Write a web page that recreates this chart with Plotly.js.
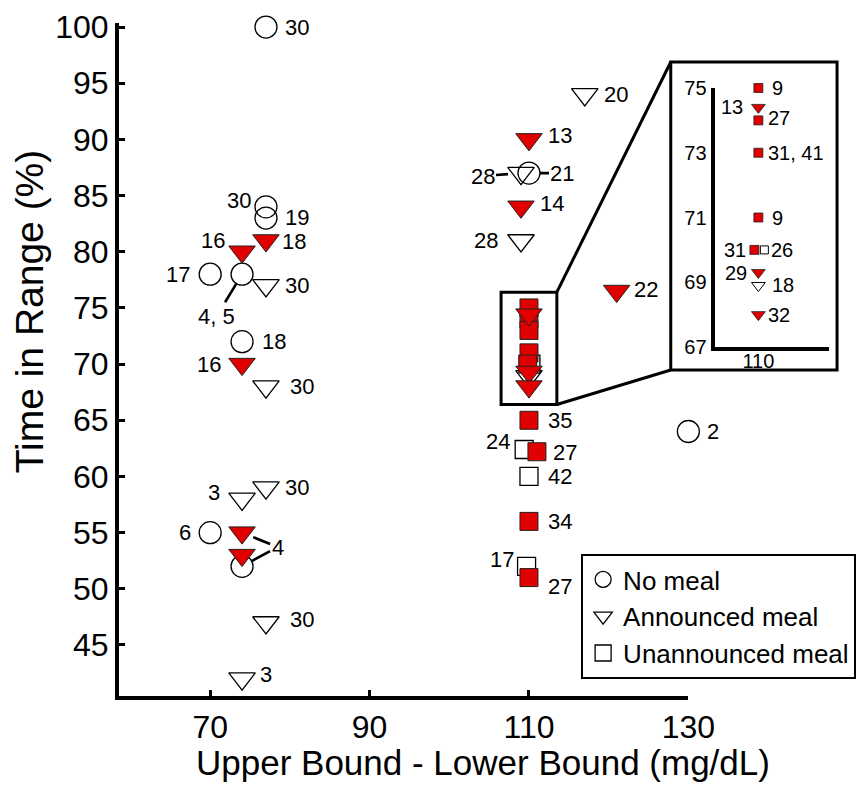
<!DOCTYPE html>
<html>
<head>
<meta charset="utf-8">
<script src="https://cdn.plot.ly/plotly-3.0.1.min.js"></script>
<style>html,body{margin:0;padding:0;background:#fff;}#chart{width:866px;height:785px;}</style>
</head>
<body>
<div id="chart"></div>
<script>
// ---------------- DATA ----------------
// No meal (circles)
const noMealX = [77, 77, 77, 70, 74, 74, 70, 74, 110, 130];
const noMealY = [100, 84, 83, 78, 78, 72, 55, 52, 87, 64];
const noMealLabel = ['30', '30', '19', '17', '4, 5', '18', '6', '4', '21', '2'];

// Announced meal, open triangles
const annOpenX = [117, 77, 77, 77, 74, 77, 74, 109, 109, 110];
const annOpenY = [94, 77, 68, 59, 58, 47, 42, 87, 81, 68.9];
const annOpenLabel = ['20', '30', '30', '30', '3', '30', '3', '28', '28', '18'];

// Announced meal, red triangles
const annRedX = [77, 74, 74, 74, 74, 110, 109, 121, 110, 110, 110];
const annRedY = [81, 80, 70, 55, 53, 90, 84, 76.5, 74.4, 69.3, 68];
const annRedLabel = ['18', '16', '16', '4', '', '13', '14', '22', '13', '29', '32'];

// Unannounced meal, open squares
const unOpenX = [109.4, 110, 109.7, 110.24];
const unOpenY = [62.4, 60, 52, 70];
const unOpenLabel = ['24', '42', '17', '26'];

// Unannounced meal, red squares
const unRedX = [110, 111, 110, 110, 110, 110, 110, 110, 109.84];
const unRedY = [65, 62.2, 56, 51, 75, 74, 73, 71, 70];
const unRedLabel = ['35', '27', '34', '27', '9', '27', '31, 41', '9', '31'];

// Zoomed window (main axes) shown in the inset
const zoomX = [106.5, 113.5];
const zoomY = [66.4, 76.4];

const xTicks = [70, 90, 110, 130];
const yTicks = [45, 50, 55, 60, 65, 70, 75, 80, 85, 90, 95, 100];
const insetXTicks = [110];
const insetYTicks = [67, 69, 71, 73, 75];

const xTitle = 'Upper Bound - Lower Bound (mg/dL)';
const yTitle = 'Time in Range (%)';

// ---------------- LABEL PLACEMENT (layout only) ----------------
// ['r'|'l', dx px, dy px]  or ['a', ax px, ay px, standoff, hiddenText]
const noMealPlace = [['r',17,0],['l',13,-6],['r',17,-1],['l',18,0],['a',-25.5,42,11],['r',18,0],['l',17,0],['a',35.5,-19.3,11,true],['a',33.5,0,11],['r',17,0]];
const annOpenPlace = [['r',17,0],['r',17,0],['r',22,0],['r',17,0],['l',20,-6],['r',22,-3],['r',16,-4],['a',-38.5,3,13],['l',21,0],['r',12,0]];
const annRedPlace = [['r',14,1],['l',15,-11],['l',19,0],['a',35.5,14.4,12],null,['r',17,-4],['r',17,-3],['r',15,-2],['l',13,0],['l',9,0],['r',8,0]];
const unOpenPlace = [['l',12,-8],['r',17,0],['l',11,-7],['r',5,0]];
const unRedPlace = [['r',17,0],['r',14,1],['r',17,0],['r',17,9],['r',12,0],['r',8,-2],['r',8,0],['r',12,0],['l',6,0]];

// ---------------- GEOMETRY ----------------
const W = 866, H = 785;
const M = {l: 119, r: 10, t: 23, b: 89};
const plotW = W - M.l - M.r, plotH = H - M.t - M.b;
const pX = px => (px - M.l) / plotW;
const pY = py => (H - M.b - py) / plotH;
const xRange = [58.56, 130], yRange = [40.46, 100.36];
const xDom = [0, pX(690.7)];
const insetXRange = [108.24, 112.84], insetYRange = [67, 75];
const insetXDom = [pX(717), pX(832)];
const insetYDom = [pY(347), pY(88)];
const dataToPaperX = x => xDom[0] + (x - xRange[0]) / (xRange[1] - xRange[0]) * (xDom[1] - xDom[0]);
const dataToPaperY = y => (y - yRange[0]) / (yRange[1] - yRange[0]);

const FONT = 'Liberation Sans, Arial, Helvetica, sans-serif';
const RED = '#e00000';
const CLEAR = 'rgba(255,255,255,0)';

const inZoom = (x, y) => x >= zoomX[0] && x <= zoomX[1] && y >= zoomY[0] && y <= zoomY[1];

function split(xs, ys, labels, place) {
  const main = {x: [], y: [], l: [], p: []}, ins = {x: [], y: [], l: [], p: []};
  xs.forEach((x, i) => {
    const t = inZoom(x, ys[i]) ? ins : main;
    t.x.push(x); t.y.push(ys[i]); t.l.push(labels[i]); t.p.push(place[i]);
  });
  return {main, ins};
}

const S = {
  noMeal: split(noMealX, noMealY, noMealLabel, noMealPlace),
  annOpen: split(annOpenX, annOpenY, annOpenLabel, annOpenPlace),
  annRed: split(annRedX, annRedY, annRedLabel, annRedPlace),
  unOpen: split(unOpenX, unOpenY, unOpenLabel, unOpenPlace),
  unRed: split(unRedX, unRedY, unRedLabel, unRedPlace)
};

function mk(d, name, symbol, size, color, lineColor, lw, xa, ya, legend) {
  return {
    type: 'scatter', mode: 'markers', x: d.x, y: d.y, name: name,
    xaxis: xa, yaxis: ya, showlegend: legend, cliponaxis: false,
    marker: {symbol: symbol, size: size, color: color, line: {color: lineColor, width: lw}},
    hoverinfo: 'skip'
  };
}

const data = [
  mk(S.noMeal.main, 'No meal', 'circle', 22, CLEAR, '#000', 1.3, 'x', 'y', true),
  mk(S.annOpen.main, 'Announced meal', 'triangle-down', 23, CLEAR, '#000', 1.3, 'x', 'y', true),
  mk(S.unOpen.main, 'Unannounced meal', 'square', 18, CLEAR, '#000', 1.3, 'x', 'y', true),
  mk(S.annRed.main, 'Announced meal (red)', 'triangle-down', 23, RED, '#222', 1, 'x', 'y', false),
  mk(S.unRed.main, 'Unannounced meal (red)', 'square', 18, RED, '#222', 1, 'x', 'y', false),
  // points inside the zoom window, also drawn on the main axes
  mk(S.annOpen.ins, 'a', 'triangle-down', 23, CLEAR, '#000', 1.3, 'x', 'y', false),
  mk(S.unOpen.ins, 'b', 'square', 18, CLEAR, '#000', 1.3, 'x', 'y', false),
  mk(S.unRed.ins, 'c', 'square', 18, RED, '#222', 1, 'x', 'y', false),
  mk(S.annRed.ins, 'd', 'triangle-down', 23, RED, '#222', 1, 'x', 'y', false),
  // inset
  mk(S.annOpen.ins, 'e', 'triangle-down', 12, CLEAR, '#000', 1, 'x2', 'y2', false),
  mk(S.unOpen.ins, 'f', 'square', 8, CLEAR, '#000', 1, 'x2', 'y2', false),
  mk(S.unRed.ins, 'g', 'square', 9, RED, '#222', 0.8, 'x2', 'y2', false),
  mk(S.annRed.ins, 'h', 'triangle-down', 12, RED, '#222', 0.8, 'x2', 'y2', false)
];

const annotations = [];
function addLabels(d, xref, yref, size) {
  d.x.forEach((x, i) => {
    const p = d.p[i], t = d.l[i];
    if (!p || !t) return;
    const font = {family: FONT, size: size, color: '#000'};
    if (p[0] === 'a') {
      annotations.push({x: x, y: d.y[i], xref: xref, yref: yref, text: t, showarrow: true,
        arrowhead: 0, arrowwidth: 2.6, arrowcolor: '#000', ax: p[1], ay: p[2], standoff: p[3],
        font: p[4] ? {family: FONT, size: size, color: 'rgba(0,0,0,0)'} : font});
    } else {
      annotations.push({x: x, y: d.y[i], xref: xref, yref: yref, text: t, showarrow: false,
        xanchor: p[0] === 'r' ? 'left' : 'right', yanchor: 'middle',
        xshift: p[0] === 'r' ? p[1] : -p[1], yshift: -p[2], font: font});
    }
  });
}
['noMeal', 'annOpen', 'annRed', 'unOpen', 'unRed'].forEach(k => {
  addLabels(S[k].main, 'x', 'y', 22);
  addLabels(S[k].ins, 'x2', 'y2', 20);
});

// axis titles as paper annotations
annotations.push({xref: 'paper', yref: 'paper', x: pX(484), y: pY(762), xanchor: 'center', yanchor: 'middle',
  text: xTitle, showarrow: false, font: {family: FONT, size: 35, color: '#000'}});
annotations.push({xref: 'paper', yref: 'paper', x: pX(29), y: pY(311), xanchor: 'center', yanchor: 'middle',
  text: yTitle, textangle: -90, showarrow: false, font: {family: FONT, size: 39, color: '#000'}});

const boxL = pX(673), boxR = pX(840), boxT = pY(62), boxB = pY(370);
const shapes = [
  {type: 'rect', xref: 'x', yref: 'y', x0: zoomX[0], x1: zoomX[1], y0: zoomY[0], y1: zoomY[1], line: {color: '#000', width: 3}},
  {type: 'rect', xref: 'paper', yref: 'paper', x0: boxL, x1: boxR, y0: boxB, y1: boxT, line: {color: '#000', width: 3}},
  {type: 'line', xref: 'paper', yref: 'paper', x0: dataToPaperX(zoomX[1]), y0: dataToPaperY(zoomY[1]), x1: boxL, y1: boxT, line: {color: '#000', width: 3}},
  {type: 'line', xref: 'paper', yref: 'paper', x0: dataToPaperX(zoomX[1]), y0: dataToPaperY(zoomY[0]), x1: boxL, y1: boxB, line: {color: '#000', width: 3}}
];

const axBase = {showgrid: false, zeroline: false, showline: true, linecolor: '#000', color: '#000'};
const layout = {
  width: W, height: H, margin: M, paper_bgcolor: '#fff', plot_bgcolor: 'rgba(0,0,0,0)',
  font: {family: FONT, color: '#000'},
  showlegend: true,
  xaxis: Object.assign({}, axBase, {domain: xDom, range: xRange, anchor: 'y', tickvals: xTicks,
    ticks: 'inside', ticklen: 6, tickwidth: 3, tickcolor: '#000', linewidth: 4,
    tickfont: {family: FONT, size: 32}}),
  yaxis: Object.assign({}, axBase, {domain: [0, 1], range: yRange, anchor: 'x', tickvals: yTicks,
    ticks: 'inside', ticklen: 6, tickwidth: 3, tickcolor: '#000', linewidth: 4,
    tickfont: {family: FONT, size: 32}}),
  xaxis2: Object.assign({}, axBase, {domain: insetXDom, range: insetXRange, anchor: 'y2', tickvals: insetXTicks,
    ticks: '', linewidth: 4, ticklabelstandoff: -7, tickfont: {family: FONT, size: 20}}),
  yaxis2: Object.assign({}, axBase, {domain: insetYDom, range: insetYRange, anchor: 'x2', tickvals: insetYTicks,
    ticks: '', linewidth: 4, tickfont: {family: FONT, size: 20}}),
  legend: {x: pX(583), y: pY(554), xanchor: 'left', yanchor: 'top', bgcolor: '#fff',
    bordercolor: '#000', borderwidth: 2, font: {family: FONT, size: 26, color: '#000'}},
  shapes: shapes, annotations: annotations
};

Plotly.newPlot('chart', data, layout, {staticPlot: true, displayModeBar: false});
</script>
</body>
</html>
